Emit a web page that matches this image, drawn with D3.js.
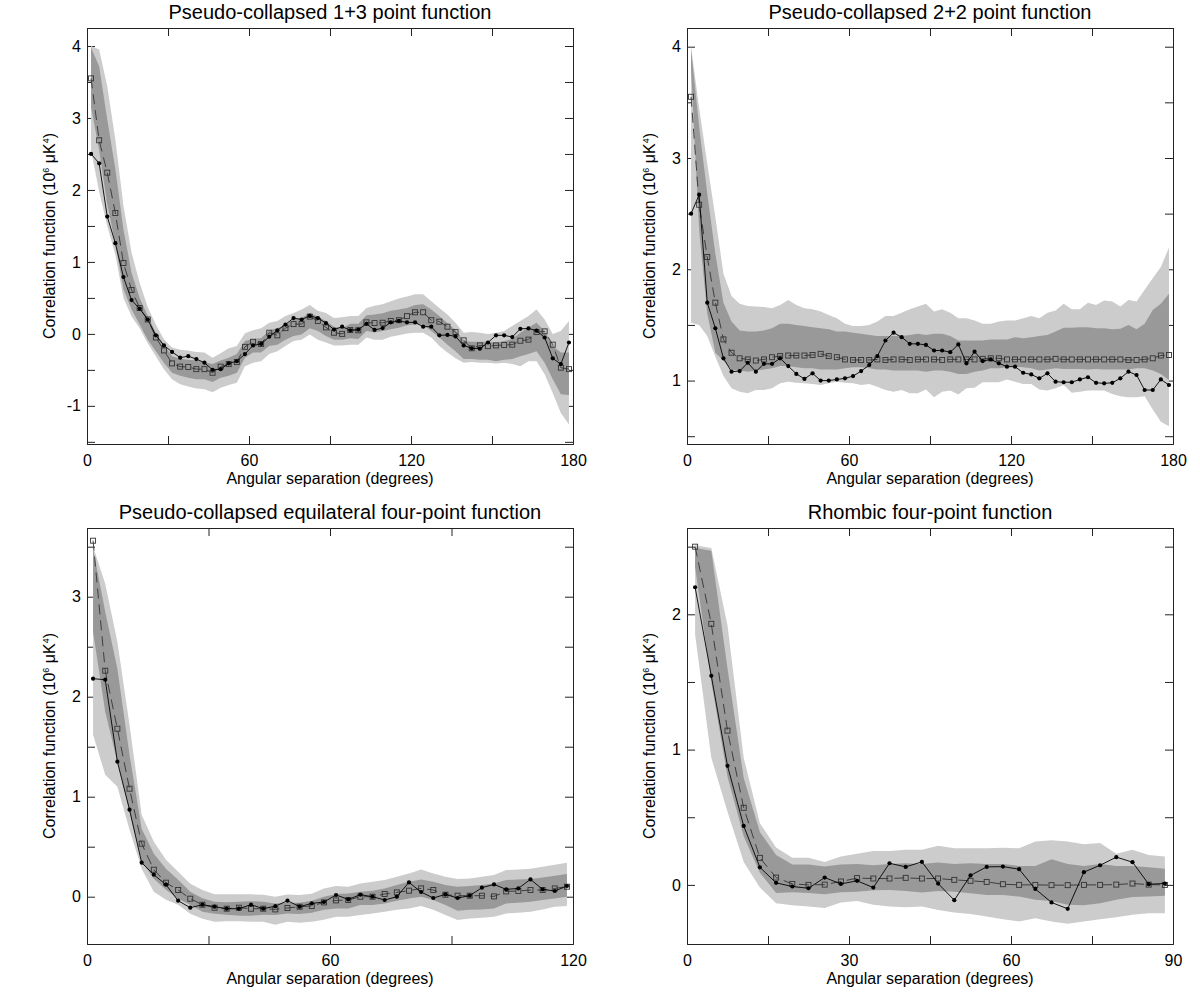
<!DOCTYPE html>
<html>
<head>
<meta charset="utf-8">
<script src="https://cdn.jsdelivr.net/npm/d3@7/dist/d3.min.js"></script>
<style>
  body { margin: 0; background: #fff; }
  text { font-family: "Liberation Sans", Arial, Helvetica, sans-serif; }
</style>
</head>
<body>
<script>
// bin centres (degrees), shared by all four panels
var angles = [1.5, 4.5, 7.5, 10.5, 13.5, 16.5, 19.5, 22.5, 25.5, 28.5,
  31.5, 34.5, 37.5, 40.5, 43.5, 46.5, 49.5, 52.5, 55.5, 58.5,
  61.5, 64.5, 67.5, 70.5, 73.5, 76.5, 79.5, 82.5, 85.5, 88.5,
  91.5, 94.5, 97.5, 100.5, 103.5, 106.5, 109.5, 112.5, 115.5, 118.5,
  121.5, 124.5, 127.5, 130.5, 133.5, 136.5, 139.5, 142.5, 145.5, 148.5,
  151.5, 154.5, 157.5, 160.5, 163.5, 166.5, 169.5, 172.5, 175.5, 178.5];

// pseudo-collapsed 1+3
var obs13 = [2.50, 2.37, 1.63, 1.26, 0.79, 0.47, 0.35, 0.20, -0.02, -0.16,
  -0.25, -0.33, -0.31, -0.35, -0.40, -0.50, -0.49, -0.41, -0.38, -0.28,
  -0.16, -0.14, -0.04, 0.05, 0.13, 0.22, 0.20, 0.25, 0.22, 0.15,
  0.06, 0.10, 0.05, 0.06, 0.14, 0.055, 0.08, 0.16, 0.18, 0.16,
  0.16, 0.10, 0.10, -0.02, -0.015, -0.035, -0.16, -0.20, -0.205, -0.12,
  -0.02, -0.02, -0.044, 0.07, 0.076, 0.044, -0.05, -0.34, -0.42, -0.12];
var model13 = [3.55, 2.69, 2.24, 1.68, 0.985, 0.61, 0.36, 0.20, -0.05, -0.23,
  -0.41, -0.455, -0.46, -0.49, -0.49, -0.54, -0.455, -0.42, -0.39, -0.18,
  -0.11, -0.14, 0.016, -0.02, 0.08, 0.136, 0.136, 0.24, 0.18, 0.09,
  0.016, 0.0, 0.053, 0.05, 0.16, 0.15, 0.155, 0.18, 0.19, 0.247,
  0.30, 0.30, 0.19, 0.17, 0.10, 0.025, -0.09, -0.20, -0.16, -0.17,
  -0.16, -0.155, -0.15, -0.095, -0.08, 0.025, 0.035, -0.15, -0.47, -0.49];
var lightHi13 = [4.0, 3.95, 3.44, 2.70, 1.78, 1.13, 0.71, 0.37, 0.13, -0.076,
  -0.19, -0.22, -0.23, -0.25, -0.26, -0.33, -0.27, -0.20, -0.17, 0.01,
  0.05, 0.08, 0.155, 0.18, 0.25, 0.29, 0.34, 0.40, 0.32, 0.29,
  0.22, 0.23, 0.25, 0.25, 0.36, 0.39, 0.41, 0.455, 0.49, 0.52,
  0.55, 0.55, 0.455, 0.36, 0.27, 0.155, 0.017, 0.025, 0.017, 0.0,
  0.017, 0.04, 0.11, 0.18, 0.25, 0.34, 0.20, 0.0, 0.04, 0.18];
var darkHi13 = [3.98, 3.72, 2.98, 2.29, 1.45, 0.85, 0.50, 0.25, 0.016, -0.146,
  -0.31, -0.345, -0.36, -0.37, -0.39, -0.42, -0.37, -0.33, -0.28, -0.10,
  -0.07, -0.06, 0.05, 0.08, 0.13, 0.20, 0.22, 0.29, 0.24, 0.18,
  0.10, 0.08, 0.14, 0.14, 0.26, 0.27, 0.285, 0.32, 0.34, 0.36,
  0.40, 0.41, 0.34, 0.25, 0.146, 0.053, -0.10, -0.11, -0.11, -0.11,
  -0.12, -0.10, -0.07, 0.017, 0.09, 0.155, 0.04, -0.17, -0.26, -0.26];
var darkLo13 = [3.15, 2.55, 1.80, 1.25, 0.62, 0.34, 0.13, -0.08, -0.24, -0.40,
  -0.54, -0.58, -0.61, -0.63, -0.63, -0.67, -0.61, -0.58, -0.54, -0.33,
  -0.26, -0.26, -0.17, -0.15, -0.08, -0.03, -0.01, 0.08, 0.04, -0.03,
  -0.08, -0.08, -0.06, -0.07, 0.04, 0.02, 0.04, 0.063, 0.086, 0.12,
  0.13, 0.13, 0.04, -0.05, -0.15, -0.24, -0.35, -0.35, -0.36, -0.36,
  -0.38, -0.36, -0.35, -0.31, -0.28, -0.24, -0.40, -0.63, -0.84, -0.85];
var lightLo13 = [2.55, 1.98, 1.50, 1.10, 0.50, 0.24, 0.08, -0.13, -0.31, -0.49,
  -0.63, -0.70, -0.73, -0.76, -0.77, -0.81, -0.75, -0.71, -0.68, -0.45,
  -0.40, -0.38, -0.28, -0.24, -0.17, -0.10, -0.08, -0.01, -0.08, -0.12,
  -0.16, -0.16, -0.15, -0.15, -0.05, -0.08, -0.08, -0.04, -0.02, 0.007,
  0.017, 0.017, -0.05, -0.17, -0.26, -0.34, -0.40, -0.39, -0.40, -0.40,
  -0.41, -0.40, -0.42, -0.45, -0.38, -0.38, -0.56, -0.82, -1.10, -1.26];

// pseudo-collapsed 2+2
var obs22 = [2.50, 2.67, 1.70, 1.47, 1.20, 1.08, 1.085, 1.16, 1.08, 1.15,
  1.15, 1.20, 1.13, 1.06, 1.015, 1.065, 1.00, 1.00, 1.01, 1.02,
  1.04, 1.085, 1.14, 1.22, 1.36, 1.43, 1.39, 1.33, 1.33, 1.32,
  1.27, 1.27, 1.255, 1.325, 1.155, 1.26, 1.175, 1.19, 1.155, 1.125,
  1.125, 1.07, 1.055, 1.02, 1.065, 0.99, 0.985, 0.985, 1.01, 1.03,
  0.98, 0.975, 0.98, 1.02, 1.08, 1.05, 0.915, 0.915, 1.01, 0.96];
var model22 = [3.55, 2.58, 2.11, 1.70, 1.37, 1.25, 1.20, 1.19, 1.18, 1.19,
  1.21, 1.22, 1.225, 1.225, 1.225, 1.23, 1.24, 1.22, 1.21, 1.19,
  1.185, 1.185, 1.185, 1.19, 1.185, 1.19, 1.19, 1.185, 1.19, 1.19,
  1.19, 1.185, 1.19, 1.19, 1.19, 1.19, 1.195, 1.20, 1.20, 1.19,
  1.19, 1.19, 1.19, 1.19, 1.19, 1.195, 1.19, 1.19, 1.19, 1.19,
  1.19, 1.19, 1.19, 1.19, 1.185, 1.185, 1.19, 1.20, 1.225, 1.23];
var lightHi22 = [4.0, 3.45, 2.95, 2.47, 1.96, 1.76, 1.69, 1.67, 1.665, 1.66,
  1.65, 1.68, 1.725, 1.68, 1.65, 1.64, 1.62, 1.59, 1.56, 1.51,
  1.49, 1.49, 1.50, 1.53, 1.58, 1.58, 1.61, 1.64, 1.665, 1.69,
  1.62, 1.64, 1.61, 1.56, 1.56, 1.54, 1.51, 1.51, 1.53, 1.54,
  1.54, 1.56, 1.58, 1.56, 1.61, 1.63, 1.69, 1.64, 1.64, 1.70,
  1.68, 1.72, 1.71, 1.665, 1.725, 1.71, 1.815, 1.92, 2.02, 2.195];
var darkHi22 = [3.98, 3.28, 2.68, 2.14, 1.70, 1.53, 1.45, 1.44, 1.44, 1.45,
  1.47, 1.51, 1.51, 1.50, 1.49, 1.48, 1.47, 1.46, 1.44, 1.44,
  1.43, 1.42, 1.41, 1.40, 1.40, 1.40, 1.40, 1.41, 1.42, 1.41,
  1.42, 1.42, 1.40, 1.36, 1.36, 1.36, 1.36, 1.37, 1.37, 1.37,
  1.39, 1.38, 1.39, 1.40, 1.41, 1.44, 1.475, 1.475, 1.48, 1.48,
  1.47, 1.47, 1.46, 1.465, 1.50, 1.46, 1.51, 1.635, 1.69, 1.78];
var darkLo22 = [3.80, 2.35, 1.60, 1.25, 1.18, 1.10, 1.09, 1.08, 1.09, 1.10,
  1.11, 1.13, 1.13, 1.12, 1.11, 1.11, 1.10, 1.10, 1.10, 1.11,
  1.12, 1.12, 1.11, 1.10, 1.10, 1.09, 1.09, 1.09, 1.09, 1.08,
  1.09, 1.09, 1.08, 1.06, 1.06, 1.08, 1.09, 1.11, 1.11, 1.12,
  1.125, 1.12, 1.11, 1.09, 1.10, 1.11, 1.105, 1.105, 1.105, 1.10,
  1.105, 1.10, 1.10, 1.10, 1.10, 1.11, 1.11, 1.09, 1.06, 1.006];
var lightLo22 = [1.52, 1.50, 1.40, 1.215, 1.04, 0.93, 0.90, 0.885, 0.915, 0.915,
  0.93, 0.975, 0.99, 0.98, 0.975, 0.97, 0.96, 0.975, 0.99, 0.98,
  0.975, 0.96, 0.97, 0.945, 0.915, 0.90, 0.915, 0.885, 0.885, 0.92,
  0.85, 0.90, 0.91, 0.875, 0.93, 0.935, 0.985, 0.985, 0.985, 1.01,
  0.99, 0.97, 0.97, 0.92, 0.91, 0.93, 0.96, 0.89, 0.90, 0.91,
  0.91, 0.91, 0.88, 0.86, 0.85, 0.85, 0.86, 0.74, 0.63, 0.59];

// pseudo-collapsed equilateral
var obsEq = [2.18, 2.17, 1.35, 0.87, 0.34, 0.22, 0.12, -0.04, -0.11, -0.08,
  -0.10, -0.12, -0.12, -0.08, -0.12, -0.095, -0.04, -0.10, -0.067, -0.053,
  0.017, -0.027, 0.02, 0.0, -0.033, 0.0, 0.143, 0.047, -0.013, 0.023,
  -0.013, 0.01, 0.09, 0.123, 0.073, 0.083, 0.173, 0.073, 0.057, 0.107];
var modelEq = [3.56, 2.26, 1.68, 1.08, 0.53, 0.27, 0.14, 0.067, -0.02, -0.08,
  -0.11, -0.12, -0.11, -0.12, -0.12, -0.127, -0.113, -0.10, -0.093, -0.057,
  -0.037, -0.033, 0.0, 0.0, 0.027, 0.043, 0.06, 0.083, 0.067, 0.02,
  0.01, 0.01, 0.01, 0.003, 0.053, 0.057, 0.067, 0.067, 0.083, 0.10];
var lightHiEq = [3.50, 3.13, 2.55, 1.72, 0.82, 0.55, 0.37, 0.25, 0.13, 0.067,
  0.024, 0.024, 0.024, 0.024, 0.02, 0.0, 0.023, 0.017, 0.03, 0.083,
  0.107, 0.10, 0.133, 0.15, 0.167, 0.20, 0.233, 0.273, 0.233, 0.20,
  0.177, 0.183, 0.20, 0.217, 0.267, 0.273, 0.28, 0.30, 0.32, 0.34];
var darkHiEq = [3.48, 2.85, 2.28, 1.42, 0.68, 0.43, 0.28, 0.17, 0.05, -0.016,
  -0.05, -0.056, -0.05, -0.045, -0.05, -0.067, -0.06, -0.06, -0.04, 0.0,
  0.027, 0.033, 0.05, 0.06, 0.083, 0.117, 0.15, 0.173, 0.15, 0.117,
  0.10, 0.107, 0.117, 0.133, 0.167, 0.173, 0.177, 0.193, 0.21, 0.227];
var darkLoEq = [2.65, 1.85, 1.35, 0.85, 0.35, 0.18, 0.07, -0.02, -0.08, -0.15,
  -0.17, -0.18, -0.19, -0.19, -0.18, -0.183, -0.167, -0.173, -0.16, -0.13,
  -0.117, -0.117, -0.083, -0.083, -0.067, -0.04, -0.017, 0.0, -0.033, -0.083,
  -0.14, -0.13, -0.127, -0.117, -0.067, -0.06, -0.05, -0.033, -0.017, 0.0];
var lightLoEq = [1.62, 1.22, 1.10, 0.67, 0.28, 0.05, -0.03, -0.08, -0.17, -0.22,
  -0.25, -0.245, -0.245, -0.25, -0.25, -0.28, -0.25, -0.26, -0.25, -0.23,
  -0.20, -0.20, -0.183, -0.167, -0.15, -0.13, -0.117, -0.093, -0.13, -0.183,
  -0.233, -0.217, -0.21, -0.20, -0.167, -0.16, -0.15, -0.127, -0.10, -0.093];

// rhombic
var obsRh = [2.20, 1.545, 0.88, 0.436, 0.13, 0.015, -0.012, -0.025, 0.054, 0.007,
  0.03, -0.02, 0.16, 0.133, 0.17, 0.01, -0.113, 0.07, 0.133, 0.135,
  0.116, -0.03, -0.13, -0.177, 0.094, 0.145, 0.205, 0.168, 0.005, 0.01];
var modelRh = [2.50, 1.93, 1.14, 0.57, 0.20, 0.054, 0.007, 0.0, 0.002, 0.025,
  0.05, 0.047, 0.047, 0.052, 0.047, 0.047, 0.037, 0.03, 0.022, 0.005,
  0.0, 0.0, -0.002, -0.002, 0.0, 0.0, 0.002, 0.01, 0.002, 0.0];
var lightHiRh = [2.51, 2.49, 1.92, 0.94, 0.456, 0.276, 0.20, 0.20, 0.17, 0.21,
  0.23, 0.25, 0.25, 0.26, 0.26, 0.29, 0.27, 0.27, 0.27, 0.275,
  0.27, 0.32, 0.33, 0.32, 0.30, 0.31, 0.23, 0.26, 0.22, 0.21];
var darkHiRh = [2.49, 2.47, 1.60, 0.79, 0.39, 0.22, 0.15, 0.15, 0.135, 0.15,
  0.155, 0.145, 0.155, 0.16, 0.155, 0.165, 0.155, 0.16, 0.155, 0.155,
  0.14, 0.14, 0.19, 0.155, 0.14, 0.155, 0.14, 0.14, 0.13, 0.12];
var darkLoRh = [2.35, 1.50, 0.80, 0.36, 0.09, -0.06, -0.055, -0.06, -0.07, -0.055,
  -0.05, -0.04, -0.037, -0.045, -0.057, -0.045, -0.05, -0.062, -0.074, -0.074,
  -0.086, -0.11, -0.12, -0.146, -0.15, -0.136, -0.11, -0.09, -0.086, -0.08];
var lightLoRh = [1.85, 0.94, 0.54, 0.17, -0.02, -0.135, -0.15, -0.16, -0.17, -0.13,
  -0.12, -0.146, -0.16, -0.165, -0.16, -0.185, -0.205, -0.215, -0.234, -0.254,
  -0.27, -0.246, -0.27, -0.288, -0.27, -0.254, -0.24, -0.22, -0.21, -0.21];

// tick values
var xTicks180 = [0, 60, 120, 180], xMinor180 = [30, 90, 150];
var xTicks120 = [0, 60, 120], xMinor120 = [30, 90];
var xTicks90 = [0, 30, 60, 90], xMinor90 = [15, 45, 75];
var yTicks13 = [-1, 0, 1, 2, 3, 4], yMinor13 = [-1.5, -0.5, 0.5, 1.5, 2.5, 3.5];
var yTicks22 = [1, 2, 3, 4], yMinor22 = [0.5, 1.5, 2.5, 3.5];
var yTicksEq = [0, 1, 2, 3], yMinorEq = [0.5, 1.5, 2.5, 3.5];
var yTicksRh = [0, 1, 2], yMinorRh = [0.5, 1.5, 2.5];

var panels = [
  { title: 'Pseudo-collapsed 1+3 point function', left: 87, top: 28, xMax: 180, yDomain: [-1.53, 4.25],
    xTicks: xTicks180, xMinor: xMinor180, yTicks: yTicks13, yMinor: yMinor13,
    obs: obs13, model: model13, lightHi: lightHi13, lightLo: lightLo13, darkHi: darkHi13, darkLo: darkLo13 },
  { title: 'Pseudo-collapsed 2+2 point function', left: 687, top: 28, xMax: 180, yDomain: [0.43, 4.168],
    xTicks: xTicks180, xMinor: xMinor180, yTicks: yTicks22, yMinor: yMinor22,
    obs: obs22, model: model22, lightHi: lightHi22, lightLo: lightLo22, darkHi: darkHi22, darkLo: darkLo22 },
  { title: 'Pseudo-collapsed equilateral four-point function', left: 87, top: 528, xMax: 120, yDomain: [-0.473, 3.687],
    xTicks: xTicks120, xMinor: xMinor120, yTicks: yTicksEq, yMinor: yMinorEq,
    obs: obsEq, model: modelEq, lightHi: lightHiEq, lightLo: lightLoEq, darkHi: darkHiEq, darkLo: darkLoEq },
  { title: 'Rhombic four-point function', left: 687, top: 528, xMax: 90, yDomain: [-0.437, 2.638],
    xTicks: xTicks90, xMinor: xMinor90, yTicks: yTicksRh, yMinor: yMinorRh,
    obs: obsRh, model: modelRh, lightHi: lightHiRh, lightLo: lightLoRh, darkHi: darkHiRh, darkLo: darkLoRh }
];

var plotW = 486, plotH = 416, tickLen = 8;
var fontFam = '"Liberation Sans", Arial, Helvetica, sans-serif';

var svg = d3.select('body')
  .append('svg')
  .attr('width', 1200)
  .attr('height', 1000);

function styleAxis(sel) {
  sel.attr('font-size', 16).attr('font-family', fontFam);
  sel.selectAll('.domain').attr('stroke', '#222');
  sel.selectAll('.tick line').attr('stroke', '#222');
  sel.selectAll('.tick text').attr('fill', '#000');
}

function drawPanel(p) {
  var g = svg.append('g')
    .attr('transform', 'translate(' + p.left + ',' + p.top + ')');

  var x = d3.scaleLinear().domain([0, p.xMax]).range([0, plotW]);
  var y = d3.scaleLinear().domain(p.yDomain).range([plotH, 0]);
  var fmt = function(d) { return String(d); };
  var allX = p.xTicks.concat(p.xMinor);
  var allY = p.yTicks.concat(p.yMinor);

  // axes with inward ticks on all four sides
  g.append('g').attr('transform', 'translate(0,' + plotH + ')')
    .call(d3.axisBottom(x).tickValues(p.xTicks).tickFormat(fmt)
      .tickSizeInner(-tickLen).tickSizeOuter(0).tickPadding(11))
    .call(styleAxis);
  g.append('g').attr('transform', 'translate(0,' + plotH + ')')
    .call(d3.axisBottom(x).tickValues(p.xMinor).tickFormat('')
      .tickSizeInner(-tickLen).tickSizeOuter(0))
    .call(styleAxis);
  g.append('g')
    .call(d3.axisTop(x).tickValues(allX).tickFormat('')
      .tickSizeInner(-tickLen).tickSizeOuter(0))
    .call(styleAxis);
  g.append('g')
    .call(d3.axisLeft(y).tickValues(p.yTicks).tickFormat(fmt)
      .tickSizeInner(-tickLen).tickSizeOuter(0).tickPadding(6))
    .call(styleAxis);
  g.append('g')
    .call(d3.axisLeft(y).tickValues(p.yMinor).tickFormat('')
      .tickSizeInner(-tickLen).tickSizeOuter(0))
    .call(styleAxis);
  g.append('g').attr('transform', 'translate(' + plotW + ',0)')
    .call(d3.axisRight(y).tickValues(allY).tickFormat('')
      .tickSizeInner(-tickLen).tickSizeOuter(0))
    .call(styleAxis);

  var rows = p.obs.map(function(d, i) {
    return {
      a: angles[i], obs: d, model: p.model[i],
      lightHi: p.lightHi[i], lightLo: p.lightLo[i],
      darkHi: p.darkHi[i], darkLo: p.darkLo[i]
    };
  });

  // confidence bands
  var lightArea = d3.area()
    .x(function(d) { return x(d.a); })
    .y0(function(d) { return y(d.lightLo); })
    .y1(function(d) { return y(d.lightHi); });
  var darkArea = d3.area()
    .x(function(d) { return x(d.a); })
    .y0(function(d) { return y(d.darkLo); })
    .y1(function(d) { return y(d.darkHi); });

  g.append('path').datum(rows).attr('d', lightArea).attr('fill', '#cccccc');
  g.append('path').datum(rows).attr('d', darkArea).attr('fill', '#999999');

  // model mean: dashed line with open squares
  var modelLine = d3.line()
    .x(function(d) { return x(d.a); })
    .y(function(d) { return y(d.model); });
  g.append('path').datum(rows)
    .attr('d', modelLine)
    .attr('fill', 'none')
    .attr('stroke', '#333')
    .attr('stroke-width', 0.9)
    .attr('stroke-dasharray', '10,6');
  g.selectAll('rect.sq')
    .data(rows)
    .enter()
    .append('rect')
    .classed('sq', true)
    .attr('x', function(d) { return x(d.a) - 2.5; })
    .attr('y', function(d) { return y(d.model) - 2.5; })
    .attr('width', 5)
    .attr('height', 5)
    .attr('fill', 'none')
    .attr('stroke', '#333')
    .attr('stroke-width', 0.9);

  // observed: solid line with filled dots
  var obsLine = d3.line()
    .x(function(d) { return x(d.a); })
    .y(function(d) { return y(d.obs); });
  g.append('path').datum(rows)
    .attr('d', obsLine)
    .attr('fill', 'none')
    .attr('stroke', '#000')
    .attr('stroke-width', 0.9);
  g.selectAll('circle')
    .data(rows)
    .enter()
    .append('circle')
    .attr('cx', function(d) { return x(d.a); })
    .attr('cy', function(d) { return y(d.obs); })
    .attr('r', 2.1)
    .attr('fill', '#000');

  // texts
  g.append('text')
    .attr('x', plotW / 2)
    .attr('y', -9)
    .attr('text-anchor', 'middle')
    .attr('font-size', 20)
    .attr('fill', '#000')
    .text(p.title);

  g.append('text')
    .attr('x', plotW / 2)
    .attr('y', plotH + 40)
    .attr('text-anchor', 'middle')
    .attr('font-size', 16)
    .attr('fill', '#000')
    .text('Angular separation (degrees)');

  var yl = g.append('text')
    .attr('transform', 'translate(-32,' + (plotH / 2) + ') rotate(-90)')
    .attr('text-anchor', 'middle')
    .attr('font-size', 16)
    .attr('fill', '#000');
  yl.append('tspan').text('Correlation function (10');
  yl.append('tspan').attr('font-size', 9).attr('dy', -6).text('6');
  yl.append('tspan').attr('dy', 6).text(' \u03BCK');
  yl.append('tspan').attr('font-size', 9).attr('dy', -6).text('4');
  yl.append('tspan').attr('dy', 6).text(')');
}

panels.forEach(drawPanel);
</script>
</body>
</html>
